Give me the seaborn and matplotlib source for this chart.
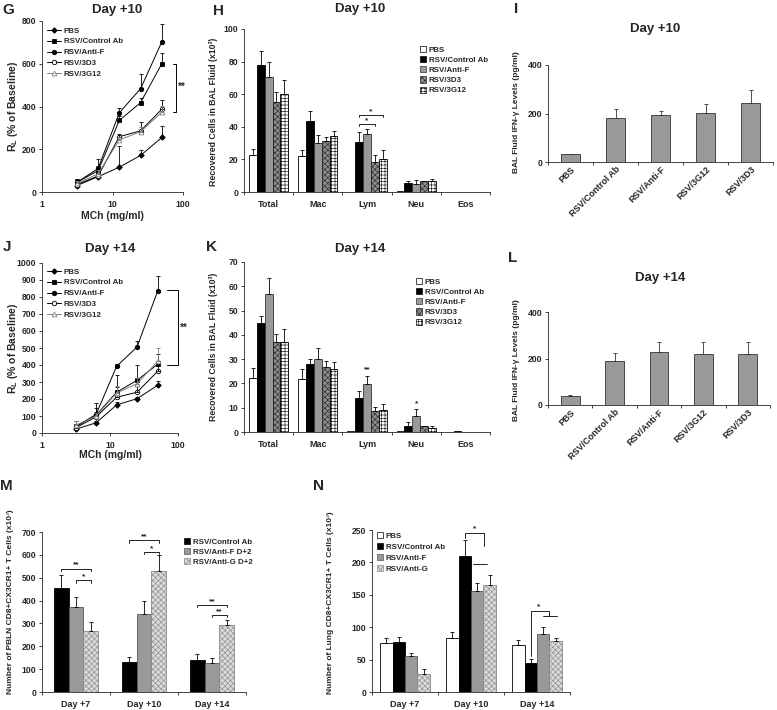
import numpy as np
import pandas as pd
import matplotlib
matplotlib.use("Agg")
import matplotlib.pyplot as plt
from matplotlib.patches import Patch
from matplotlib.ticker import NullLocator
import seaborn as sns

W, H = 777, 710

# ---------------- DATOS ----------------
# Curvas dosis-respuesta (RL, % of Baseline)
mch = [3.125, 6.25, 12.5, 25, 50]
grupos_linea = ["PBS", "RSV/Control Ab", "RSV/Anti-F", "RSV/3D3", "RSV/3G12"]

g_pbs = [30, 72, 116, 171, 255]
g_pbs_err = [10, 8, 97, 26, 55]
g_ctrl = [45, 100, 335, 418, 600]
g_ctrl_err = [15, 20, 20, 20, 52]
g_antif = [45, 110, 371, 483, 702]
g_antif_err = [15, 45, 20, 70, 82]
g_3d3 = [35, 75, 259, 286, 387]
g_3d3_err = [10, 15, 13, 43, 43]
g_3g12 = [40, 85, 244, 282, 373]
g_3g12_err = [12, 20, 15, 20, 30]

j_pbs = [22, 60, 165, 202, 280]
j_pbs_err = [8, 10, 20, 12, 28]
j_ctrl = [40, 105, 240, 310, 404]
j_ctrl_err = [30, 70, 100, 90, 60]
j_antif = [35, 110, 392, 506, 833]
j_antif_err = [10, 40, 12, 33, 88]
j_3d3 = [30, 95, 210, 240, 362]
j_3d3_err = [10, 15, 60, 40, 60]
j_3g12 = [45, 100, 235, 290, 421]
j_3g12_err = [25, 20, 40, 35, 80]

# Celulas en BAL (x10^3)
celulas = ["Total", "Mac", "Lym", "Neu", "Eos"]
grupos_bal = ["PBS", "RSV/Control Ab", "RSV/Anti-F", "RSV/3D3", "RSV/3G12"]

h_pbs = [22.7, 22.2, 0.3, 0.5, 0.2]
h_pbs_err = [3.7, 3.8, 0, 0, 0]
h_ctrl = [78, 43.3, 30.4, 5.5, 0.3]
h_ctrl_err = [8.7, 6.5, 6.3, 1.0, 0]
h_antif = [70.4, 30, 35.3, 4.9, 0.1]
h_antif_err = [9.6, 4.9, 3.3, 2.2, 0]
h_3d3 = [55.3, 31.4, 18.4, 6.5, 0.1]
h_3d3_err = [6.3, 2.5, 4, 0.5, 0]
h_3g12 = [60.4, 34.5, 20.2, 6.5, 0.1]
h_3g12_err = [8.4, 3.1, 5.8, 1.7, 0]

k_pbs = [22.2, 21.8, 0.3, 0.5, 0.2]
k_pbs_err = [4.1, 4, 0, 0, 0]
k_ctrl = [44.8, 28, 13.9, 2.6, 0.3]
k_ctrl_err = [3, 1.9, 3, 1.4, 0]
k_antif = [57, 29.9, 19.8, 6.7, 0.1]
k_antif_err = [6.5, 4.5, 3.4, 2.6, 0]
k_3d3 = [37.2, 26.9, 8.6, 2.3, 0.1]
k_3d3_err = [3.1, 2.5, 1.6, 0.3, 0]
k_3g12 = [37.2, 25.8, 9, 1.6, 0.1]
k_3g12_err = [5.3, 2.9, 2.4, 1, 0]

# IFN-gamma en BAL (pg/ml)
grupos_ifn = ["PBS", "RSV/Control Ab", "RSV/Anti-F", "RSV/3G12", "RSV/3D3"]
i_ifn = [32, 182, 193, 203, 245]
i_ifn_err = [2, 35, 19, 37, 51]
l_ifn = [39, 190, 226, 221, 219]
l_ifn_err = [2, 34, 47, 49, 51]

# CD8+CX3CR1+ (x10^3)
dias = ["Day +7", "Day +10", "Day +14"]
grupos_m = ["RSV/Control Ab", "RSV/Anti-F D+2", "RSV/Anti-G D+2"]
m_ctrl = [455, 130, 140]
m_ctrl_err = [55, 25, 25]
m_antif = [373, 342, 128]
m_antif_err = [42, 58, 20]
m_antig = [268, 530, 293]
m_antig_err = [38, 70, 22]

grupos_n = ["PBS", "RSV/Control Ab", "RSV/Anti-F", "RSV/Anti-G"]
n_pbs = [76, 83.5, 72]
n_pbs_err = [8, 8.5, 8]
n_ctrl = [77, 210, 44.5]
n_ctrl_err = [8, 25, 6.5]
n_antif = [56, 156, 90]
n_antif_err = [4, 12, 11]
n_antig = [28, 165, 78.5]
n_antig_err = [7, 15, 5.5]

# ---------------- ESTILO ----------------
sns.set_theme(style="ticks")
plt.rcParams["font.family"] = ["Liberation Sans", "DejaVu Sans"]
plt.rcParams["font.weight"] = "bold"
plt.rcParams["axes.labelweight"] = "bold"
plt.rcParams["mathtext.fontset"] = "custom"
plt.rcParams["mathtext.bf"] = "Liberation Sans:bold"
plt.rcParams["mathtext.rm"] = "Liberation Sans:bold"
plt.rcParams["hatch.linewidth"] = 0.4
plt.rcParams["axes.linewidth"] = 0.6

fig = plt.figure(figsize=(W / 100, H / 100), dpi=100)


def ejes(x0, y0, x1, y1):
    ax = fig.add_axes([x0 / W, 1 - y1 / H, (x1 - x0) / W, (y1 - y0) / H])
    sns.despine(ax=ax)
    ax.tick_params(labelsize=6.2, width=0.6, length=2.5, pad=1.5)
    return ax


def texto(x, y, s, **kw):
    kw.setdefault("ha", "center")
    kw.setdefault("va", "center")
    kw.setdefault("fontweight", "bold")
    fig.text(x / W, 1 - y / H, s, **kw)


def panel_lineas(ax, series, errores, ymax, yticks):
    estilos = [
        dict(color="black", marker="D", markersize=2.8, markerfacecolor="black"),
        dict(color="black", marker="s", markersize=3, markerfacecolor="black"),
        dict(color="black", marker="o", markersize=3.2, markerfacecolor="black"),
        dict(color="black", marker="o", markersize=3.2, markerfacecolor="white"),
        dict(color="#808080", marker="^", markersize=3.4, markerfacecolor="white"),
    ]
    for nombre, ys, err, est in zip(grupos_linea, series, errores, estilos):
        sns.lineplot(x=mch, y=ys, ax=ax, label=nombre, linewidth=0.7,
                     markeredgewidth=0.6, markeredgecolor=est["color"], errorbar=None, **est)
        ax.errorbar(mch, ys, yerr=[np.zeros(len(ys)), err], fmt="none",
                    ecolor=est["color"], elinewidth=0.6, capsize=1.5, capthick=0.6)
    ax.set_xscale("log")
    ax.set_xlim(1, 100)
    ax.set_xticks([1, 10, 100])
    ax.set_xticklabels(["1", "10", "100"])
    ax.xaxis.set_minor_locator(NullLocator())
    ax.tick_params(axis="x", pad=3)
    ax.set_ylim(0, ymax)
    ax.set_yticks(yticks)
    ax.set_xlabel("")
    ax.set_ylabel("")


def panel_barras(ax, cats, grupos, valores, errores, colores, hatches, bordes, ancho):
    df = pd.DataFrame({
        "cat": np.repeat([cats], len(grupos), axis=0).ravel(),
        "grupo": np.repeat(grupos, len(cats)),
        "valor": np.concatenate(valores),
    })
    sns.barplot(data=df, x="cat", y="valor", hue="grupo", order=cats, hue_order=grupos,
                palette=colores, saturation=1, width=ancho, errorbar=None,
                edgecolor="black", linewidth=0.6, legend=False, ax=ax)
    for cont, hatch, ec, err in zip(ax.containers, hatches, bordes, errores):
        for bar, e in zip(cont, err):
            bar.set_hatch(hatch)
            bar.set_edgecolor(ec)
            if e > 0:
                ax.errorbar(bar.get_x() + bar.get_width() / 2, bar.get_height(),
                            yerr=[[0], [e]], fmt="none", ecolor="black",
                            elinewidth=0.6, capsize=1.5, capthick=0.6)
    n = len(cats)
    ax.set_xlim(-0.5, n - 0.5)
    ax.set_xticks(np.arange(n + 1) - 0.5, minor=True)
    ax.tick_params(axis="x", which="major", length=0, pad=6, labelsize=6.5)
    ax.tick_params(axis="x", which="minor", length=2.5, width=0.6)
    ax.set_xlabel("")
    ax.set_ylabel("")


def centro(ax, i_hue, i_cat):
    bar = ax.containers[i_hue][i_cat]
    return bar.get_x() + bar.get_width() / 2


def corchete(ax, x1, x2, y, d, s, fs=6):
    ax.plot([x1, x1, x2, x2], [y - d, y, y, y - d], color="black", lw=0.6, clip_on=False)
    ax.text((x1 + x2) / 2, y, s, ha="center", va="bottom", fontsize=fs, fontweight="bold")


def leyenda_patches(ax, labels, colores, hatches, bordes, x, y, fs=5.7, sp=0.3):
    handles = [Patch(facecolor=c, hatch=h, edgecolor=e, linewidth=0.5, label=l)
               for l, c, h, e in zip(labels, colores, hatches, bordes)]
    ax.legend(handles=handles, loc="upper left", bbox_to_anchor=(x / W, 1 - y / H),
              bbox_transform=fig.transFigure, frameon=False, fontsize=fs,
              handlelength=0.8, handleheight=0.8, handletextpad=0.3,
              labelspacing=sp, borderpad=0, borderaxespad=0)


def panel_ifn(ax, valores, errores, ymax):
    sns.barplot(x=grupos_ifn, y=valores, color="#999999", saturation=1, width=0.42,
                edgecolor="#333333", linewidth=0.6, errorbar=None, ax=ax)
    for bar, e in zip(ax.containers[0], errores):
        ax.errorbar(bar.get_x() + bar.get_width() / 2, bar.get_height(), yerr=[[0], [e]],
                    fmt="none", ecolor="#333333", elinewidth=0.6, capsize=1.5, capthick=0.6)
    ax.set_xlim(-0.5, 4.5)
    ax.set_ylim(0, ymax)
    ax.set_yticks([0, 200, 400])
    ax.set_xticks(np.arange(6) - 0.5, minor=True)
    ax.tick_params(axis="x", which="major", length=0, pad=2, labelsize=6.5)
    ax.tick_params(axis="x", which="minor", length=2.5, width=0.6)
    plt.setp(ax.get_xticklabels(), rotation=45, ha="right", rotation_mode="anchor")


# ---------------- G ----------------
axG = ejes(42, 21, 183, 192)
panel_lineas(axG, [g_pbs, g_ctrl, g_antif, g_3d3, g_3g12],
             [g_pbs_err, g_ctrl_err, g_antif_err, g_3d3_err, g_3g12_err],
             800, [0, 200, 400, 600, 800])
axG.plot([72, 79, 79, 72], [600, 600, 375, 375], color="black", lw=0.7, clip_on=False)
axG.text(86, 491, "**", fontsize=7, fontweight="bold", va="center", clip_on=False)
axG.legend(loc="upper left", bbox_to_anchor=(47 / W, 1 - 27 / H), bbox_transform=fig.transFigure,
           frameon=False, fontsize=5.7, handlelength=1.8, handletextpad=0.3,
           labelspacing=0.42, borderpad=0, borderaxespad=0)

# ---------------- H ----------------
col_bal = ["white", "black", "#999999", "#8c8c8c", "white"]
hat_bal = ["", "", "", "xxxxxx", "+++++"]
bor_bal = ["black", "black", "#333333", "#222222", "black"]
axH = ejes(244, 29, 490, 192)
panel_barras(axH, celulas, grupos_bal, [h_pbs, h_ctrl, h_antif, h_3d3, h_3g12],
             [h_pbs_err, h_ctrl_err, h_antif_err, h_3d3_err, h_3g12_err],
             col_bal, hat_bal, bor_bal, 0.8)
axH.set_ylim(0, 100)
axH.set_yticks(range(0, 101, 20))
corchete(axH, centro(axH, 1, 2), centro(axH, 4, 2), 47.3, 1.2, "*")
corchete(axH, centro(axH, 1, 2), centro(axH, 3, 2), 41.8, 1.2, "*")
leyenda_patches(axH, grupos_bal, col_bal, hat_bal, bor_bal, 420, 46)

# ---------------- I ----------------
axI = ejes(548, 65, 773, 162)
panel_ifn(axI, i_ifn, i_ifn_err, 400)

# ---------------- J ----------------
axJ = ejes(42, 263, 178, 433)
panel_lineas(axJ, [j_pbs, j_ctrl, j_antif, j_3d3, j_3g12],
             [j_pbs_err, j_ctrl_err, j_antif_err, j_3d3_err, j_3g12_err],
             1000, range(0, 1001, 100))
axJ.plot([69, 100, 100, 69], [840, 840, 400, 400], color="black", lw=0.7, clip_on=False)
axJ.text(108, 620, "**", fontsize=7, fontweight="bold", va="center", clip_on=False)
axJ.legend(loc="upper left", bbox_to_anchor=(47 / W, 1 - 268 / H), bbox_transform=fig.transFigure,
           frameon=False, fontsize=5.7, handlelength=1.8, handletextpad=0.3,
           labelspacing=0.42, borderpad=0, borderaxespad=0)

# ---------------- K ----------------
axK = ejes(244, 262, 490, 432)
panel_barras(axK, celulas, grupos_bal, [k_pbs, k_ctrl, k_antif, k_3d3, k_3g12],
             [k_pbs_err, k_ctrl_err, k_antif_err, k_3d3_err, k_3g12_err],
             col_bal, hat_bal, bor_bal, 0.8)
axK.set_ylim(0, 70)
axK.set_yticks(range(0, 71, 10))
axK.text(centro(axK, 2, 2), 24, "**", ha="center", va="bottom", fontsize=6, fontweight="bold")
axK.text(centro(axK, 2, 3), 10.3, "*", ha="center", va="bottom", fontsize=6, fontweight="bold")
leyenda_patches(axK, grupos_bal, col_bal, hat_bal, bor_bal, 416, 278)

# ---------------- L ----------------
axL = ejes(548, 312, 770, 405)
panel_ifn(axL, l_ifn, l_ifn_err, 400)

# ---------------- M ----------------
col_m = ["black", "#999999", "#d9d9d9"]
hat_m = ["", "", "xxxxxx"]
bor_m = ["black", "#555555", "#888888"]
axM = ejes(42, 532, 246, 692)
panel_barras(axM, dias, grupos_m, [m_ctrl, m_antif, m_antig],
             [m_ctrl_err, m_antif_err, m_antig_err], col_m, hat_m, bor_m, 0.66)
axM.set_ylim(0, 700)
axM.set_yticks(range(0, 701, 100))
corchete(axM, centro(axM, 0, 0), centro(axM, 2, 0), 540, 10, "**")
corchete(axM, centro(axM, 1, 0), centro(axM, 2, 0), 489, 10, "*")
corchete(axM, centro(axM, 0, 1), centro(axM, 2, 1), 663, 10, "**")
corchete(axM, centro(axM, 1, 1), centro(axM, 2, 1), 612, 10, "*")
corchete(axM, centro(axM, 0, 2), centro(axM, 2, 2), 380, 10, "**")
corchete(axM, centro(axM, 1, 2), centro(axM, 2, 2), 337, 10, "**")
leyenda_patches(axM, grupos_m, col_m, hat_m, bor_m, 184, 538, sp=0.28)

# ---------------- N ----------------
col_n = ["white", "black", "#999999", "#d9d9d9"]
hat_n = ["", "", "", "xxxxxx"]
bor_n = ["black", "black", "#555555", "#888888"]
axN = ejes(372, 530, 570, 692)
panel_barras(axN, dias, grupos_n, [n_pbs, n_ctrl, n_antif, n_antig],
             [n_pbs_err, n_ctrl_err, n_antif_err, n_antig_err], col_n, hat_n, bor_n, 0.75)
axN.set_ylim(0, 250)
axN.set_yticks(range(0, 251, 50))
xa = centro(axN, 1, 1)
axN.plot([xa, xa, 1.19, 1.19], [238, 246, 246, 226], color="black", lw=0.6)
axN.plot([1.03, 1.24], [197, 197], color="black", lw=0.6)
axN.text(1.05, 246, "*", ha="center", va="bottom", fontsize=6, fontweight="bold")
xb = centro(axN, 1, 2)
axN.plot([xb, xb, 2.18, 2.18], [55, 125, 125, 118], color="black", lw=0.6)
axN.plot([2.09, 2.30], [118, 118], color="black", lw=0.6)
axN.text(2.03, 126, "*", ha="center", va="bottom", fontsize=6, fontweight="bold")
leyenda_patches(axN, grupos_n, col_n, hat_n, bor_n, 377, 532, sp=0.42)

# ---------------- TEXTOS ----------------
texto(8, 10, "G", fontsize=11)
texto(117, 10, "Day +10", fontsize=9.5)
texto(218, 11, "H", fontsize=11)
texto(360, 9, "Day +10", fontsize=9.5)
texto(516, 9, "I", fontsize=11)
texto(655, 29, "Day +10", fontsize=9.5)
texto(7, 247, "J", fontsize=11)
texto(110, 249, "Day +14", fontsize=9.5)
texto(212, 247, "K", fontsize=11)
texto(360, 249, "Day +14", fontsize=9.5)
texto(513, 258, "L", fontsize=11)
texto(660, 278, "Day +14", fontsize=9.5)
texto(6, 486, "M", fontsize=11)
texto(318, 486, "N", fontsize=11)

texto(13, 106, r"R$_\mathbf{L}$ (% of Baseline)", fontsize=7.5, rotation=90)
texto(13, 348, r"R$_\mathbf{L}$ (% of Baseline)", fontsize=7.5, rotation=90)
texto(112, 216, "MCh (mg/ml)", fontsize=7.5)
texto(110, 455, "MCh (mg/ml)", fontsize=7.5)
texto(213, 112, "Recovered Cells in BAL Fluid (x10³)", fontsize=6.3, rotation=90)
texto(213, 347, "Recovered Cells in BAL Fluid (x10³)", fontsize=6.3, rotation=90)
texto(517, 112, "BAL Fluid IFN-γ Levels (pg/ml)", fontsize=6, rotation=90)
texto(516, 360, "BAL Fluid IFN-γ Levels (pg/ml)", fontsize=6, rotation=90)
texto(11, 602, "Number of PBLN CD8+CX3CR1+ T Cells (x10³)", fontsize=6, rotation=90)
texto(331, 603, "Number of Lung CD8+CX3CR1+ T Cells (x10³)", fontsize=6, rotation=90)

fig.savefig("out.png", dpi=100, facecolor="white")
